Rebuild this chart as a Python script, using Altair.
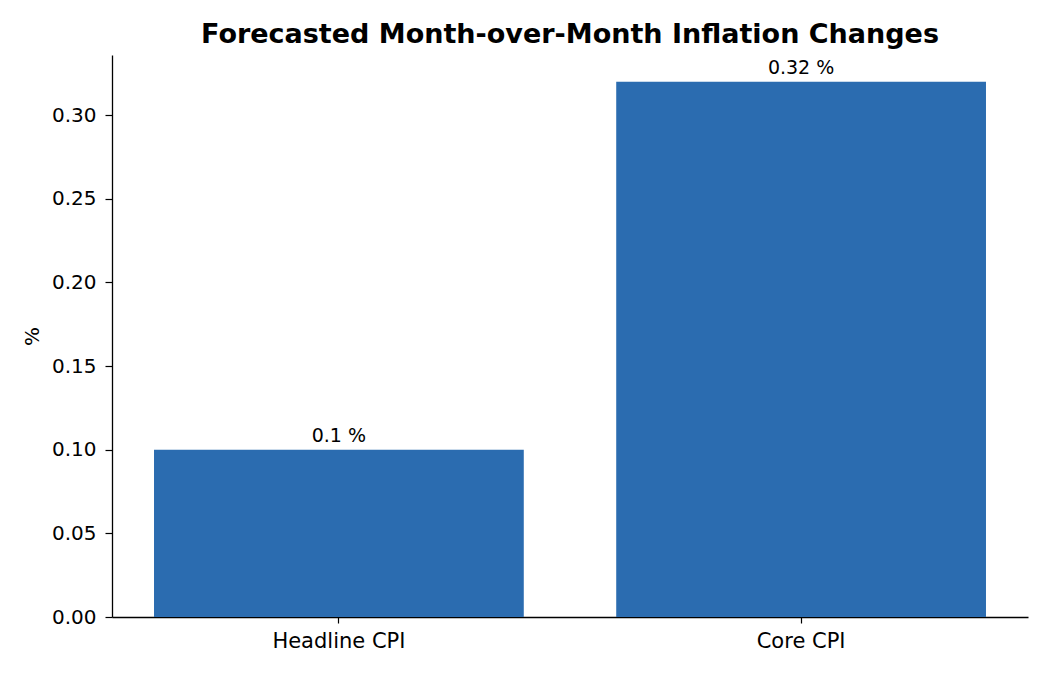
import altair as alt
import pandas as pd

categories = ["Headline CPI", "Core CPI"]
values = [0.1, 0.32]
labels = ["0.1 %", "0.32 %"]

df = pd.DataFrame({"cat": categories, "val": values, "lab": labels})

x_enc = alt.X("cat:N", sort=categories, title=None,
              scale=alt.Scale(paddingInner=0.2, paddingOuter=0.0909),
              axis=alt.Axis(labelAngle=0, labelFontSize=21, labelFont="DejaVu Sans",
                            labelColor="black", tickColor="black", domainColor="black",
                            tickSize=6, tickWidth=1.2, domainWidth=1.3, labelPadding=7))
y_enc = alt.Y("val:Q", title="%",
              scale=alt.Scale(domain=[0, 0.336], nice=False),
              axis=alt.Axis(values=[0, 0.05, 0.1, 0.15, 0.2, 0.25, 0.3], format=".2f",
                            labelFontSize=20, labelFont="DejaVu Sans", labelColor="black",
                            tickColor="black", domainColor="black", tickSize=7,
                            tickWidth=1.2, domainWidth=1.3, labelPadding=9, grid=False,
                            titleFont="DejaVu Sans", titleFontSize=20, titleFontWeight="normal",
                            titleColor="black", titlePadding=9))

bars = alt.Chart(df).mark_bar(color="#2b6cb0").encode(x=x_enc, y=y_enc)
text = alt.Chart(df).mark_text(baseline="bottom", dy=-4, fontSize=19,
                               font="DejaVu Sans", color="black").encode(
    x=alt.X("cat:N", sort=categories), y="val:Q", text="lab:N")

chart = (bars + text).properties(
    width=916, height=562,
    title=alt.TitleParams("Forecasted Month-over-Month Inflation Changes",
                          font="DejaVu Sans", fontSize=27, fontWeight="bold",
                          color="black", anchor="middle", offset=6),
    autosize=alt.AutoSizeParams(type="none"),
    padding={"left": 104, "top": 47, "right": 10, "bottom": 50},
).configure_view(stroke=None)

chart.save("out.html", embed_options={"renderer": "svg", "actions": False})
